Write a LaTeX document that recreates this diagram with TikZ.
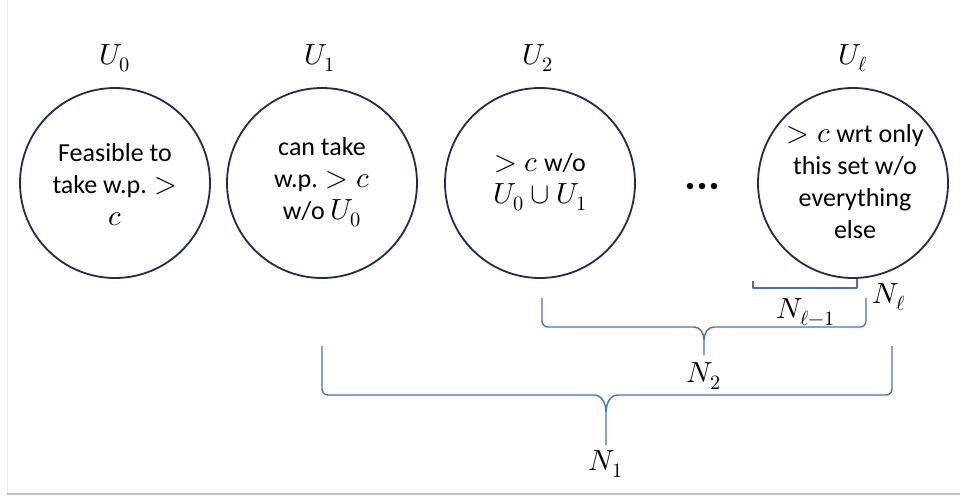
\documentclass[tikz,border=0pt]{standalone}
\usepackage{fontspec}
\usepackage{unicode-math}
\setmainfont{Carlito}
\setmathfont{Latin Modern Math}[Scale=1.12]
\definecolor{circnavy}{RGB}{32,42,82}
\definecolor{braceblue}{RGB}{70,110,205}
\tikzset{
  setcirc/.style={circle, draw=circnavy, line width=1.8pt, minimum size=190pt, inner sep=0pt},
  intext/.style={align=center, inner sep=0pt, font=\fontsize{26}{32}\selectfont},
  setlab/.style={inner sep=0pt, font=\fontsize{26}{32}\selectfont},
  bracepath/.style={draw=braceblue, line width=1.4pt, line join=round},
  dotmark/.style={circle, fill=black, minimum size=6.5pt, inner sep=0pt}
}
\begin{document}
\begin{tikzpicture}[x=1pt,y=-1pt]
\useasboundingbox (0,0) rectangle (960,496);
\fill[white] (0,0) rectangle (960,496);
\draw[black!8, line width=1pt] (7,0) -- (7,494);
\draw[black!25, line width=1.6pt] (7,494) -- (960,494);

% circles
\node[setcirc] (c0) at (115,183) {};
\node[setcirc] (c1) at (322,183) {};
\node[setcirc] (c2) at (540,183) {};
\node[setcirc] (cl) at (853,183) {};

% labels above
\node[setlab] (u0) at (115,58) {$U_0$};
\node[setlab] (u1) at (320,58) {$U_1$};
\node[setlab] (u2) at (538,58) {$U_2$};
\node[setlab] (ul) at (853,58) {$U_\ell$};

% texts
\node[intext] (t0) at (115,185) {Feasible to\\take w.p. $>$\\$c$};
\node[intext] (t1) at (322,182) {can take\\w.p. $>c$\\w/o $U_0$};
\node[intext] (t2) at (540,182) {$>c$ w/o\\$U_0\cup U_1$};
\node[intext] (tl) at (855,182) {$>c$ wrt only\\this set w/o\\everything\\else};

% dots
\node[dotmark] (d1) at (690,186) {};
\node[dotmark] (d2) at (702,186) {};
\node[dotmark] (d3) at (714,186) {};

% N_{l-1} bracket
\draw[bracepath] (753,281) -- (753,288) -- (857,288) -- (857,279);
\node[setlab] (nl1) at (806,312) {$N_{\ell-1}$};
\node[setlab] (nl) at (889,297) {$N_\ell$};

% N_2 brace
\draw[bracepath] (542,298) -- (542,321) to[out=-90,in=180] (548,327) -- (694,327)
  to[out=0,in=90] (704,340) -- (704,355);
\draw[bracepath] (866,298) -- (866,321) to[out=-90,in=0] (860,327) -- (714,327)
  to[out=180,in=90] (704,340);
\node[setlab] (n2) at (704,376) {$N_2$};

% N_1 brace
\draw[bracepath] (322,346) -- (322,389) to[out=-90,in=180] (328,395) -- (594,395)
  to[out=0,in=90] (606,412) -- (606,445);
\draw[bracepath] (892,346) -- (892,389) to[out=-90,in=0] (886,395) -- (618,395)
  to[out=180,in=90] (606,412);
\node[setlab] (n1) at (606,464) {$N_1$};
\end{tikzpicture}
\end{document}
